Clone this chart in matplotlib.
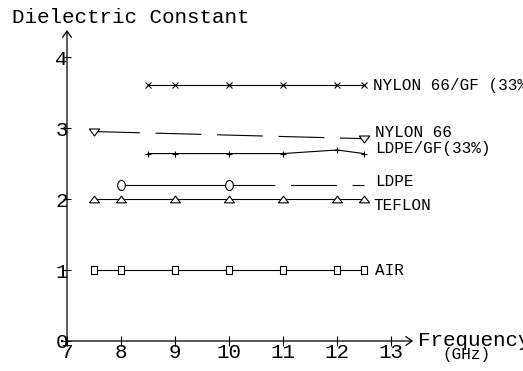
import numpy as np
import matplotlib
matplotlib.use("Agg")
import matplotlib.pyplot as plt

plt.rcParams['font.family'] = ['Liberation Mono', 'DejaVu Sans Mono']
plt.rcParams['lines.scale_dashes'] = False

# values (frequency in GHz, dielectric constant)
air_freq = [7.5, 8, 9, 10, 11, 12, 12.5]
air_eps = [1.0, 1.0, 1.0, 1.0, 1.0, 1.0, 1.0]

teflon_freq = [7.5, 8, 9, 10, 11, 12, 12.5]
teflon_eps = [2.0, 2.0, 2.0, 2.0, 2.0, 2.0, 2.0]

ldpe_freq = [8, 10]
ldpe_eps = [2.2, 2.2]
ldpe_tail_freq = [10, 12.5]
ldpe_tail_eps = [2.2, 2.2]

ldpe_gf_freq = [8.5, 9, 10, 11, 12, 12.5]
ldpe_gf_eps = [2.64, 2.64, 2.64, 2.64, 2.69, 2.64]

nylon_freq = [7.5, 12.5]
nylon_eps = [2.95, 2.85]

nylon_gf_freq = [8.5, 9, 10, 11, 12, 12.5]
nylon_gf_eps = [3.6, 3.6, 3.6, 3.6, 3.6, 3.6]

x_ticks = [7, 8, 9, 10, 11, 12, 13]
y_ticks = [0, 1, 2, 3, 4]

# flattened markers like the original drawing
tri_up = [(-1, -0.67), (1, -0.67), (0, 0.67), (-1, -0.67)]
tri_down = [(-1, 0.67), (1, 0.67), (0, -0.67), (-1, 0.67)]
rect = [(-0.78, -1), (0.78, -1), (0.78, 1), (-0.78, 1), (-0.78, -1)]
t = np.linspace(0, 2 * np.pi, 40)
ellipse = list(zip(0.77 * np.cos(t), np.sin(t)))

DASH = (0, (33, 11.3))
LW = 0.8


def label(ax, text, fx, fy, dx, dy):
    ax.annotate(text, xy=(fx[-1], fy[-1]), xytext=(dx, dy), textcoords='offset points',
                ha='left', va='baseline', fontsize=11.5, annotation_clip=False)


def main():
    fig = plt.figure(figsize=(5.23, 3.71), dpi=100)
    ax = fig.add_axes([67 / 523, 30 / 371, 348.3 / 523, 312.4 / 371])
    ax.set_xlim(7, 13.45)
    ax.set_ylim(0, 4.4)
    for s in ax.spines.values():
        s.set_visible(False)

    mk = dict(color='black', lw=LW, mfc='white', mec='black', mew=0.8)
    ax.plot(air_freq, air_eps, marker=rect, ms=5.3, **mk)
    ax.plot(teflon_freq, teflon_eps, marker=tri_up, ms=7.2, **mk)
    ax.plot(ldpe_tail_freq, ldpe_tail_eps, color='black', lw=LW, linestyle=DASH)
    ax.plot(ldpe_freq, ldpe_eps, marker=ellipse, ms=7.2, **mk)
    ax.plot(ldpe_gf_freq, ldpe_gf_eps, marker='+', ms=5, **mk)
    ax.plot(nylon_freq, nylon_eps, linestyle=DASH, marker=tri_down, ms=7.5, **mk)
    ax.plot(nylon_gf_freq, nylon_gf_eps, marker='x', ms=4.8, **mk)

    label(ax, "NYLON 66/GF (33%)", nylon_gf_freq, nylon_gf_eps, 6.3, -3.3)
    label(ax, "NYLON 66", nylon_freq, nylon_eps, 7.9, 1.4)
    label(ax, "LDPE/GF(33%)", ldpe_gf_freq, ldpe_gf_eps, 7.9, 0.6)
    label(ax, "LDPE", ldpe_tail_freq, ldpe_tail_eps, 7.9, -0.9)
    label(ax, "TEFLON", teflon_freq, teflon_eps, 6.7, -7.9)
    label(ax, "AIR", air_freq, air_eps, 7.9, -3.6)

    # axes drawn as arrows
    arrow = dict(arrowstyle='->,head_length=0.45,head_width=0.32', lw=0.9,
                 color='black', shrinkA=0, shrinkB=0)
    ax.annotate('', xy=(7, 4.38), xytext=(7, 0), arrowprops=arrow, annotation_clip=False)
    ax.annotate('', xy=(13.41, 0), xytext=(7, 0), arrowprops=arrow, annotation_clip=False)

    ax.set_xticks(x_ticks)
    ax.set_yticks(y_ticks)
    ax.tick_params(axis='x', direction='inout', length=7, width=0.8, pad=-2.3, labelsize=15)
    ax.tick_params(axis='y', direction='inout', length=6, width=0.8, pad=-3.7, labelsize=15)

    fig.text(12 / 523, 1 - 22.7 / 371, "Dielectric Constant", fontsize=15,
             ha='left', va='baseline')
    fig.text(418 / 523, 1 - 346 / 371, "Frequency", fontsize=15, ha='left', va='baseline')
    fig.text(466.5 / 523, 1 - 359 / 371, "(GHz)", fontsize=11.5, ha='center', va='baseline')

    fig.savefig("out.png", dpi=100)


main()
